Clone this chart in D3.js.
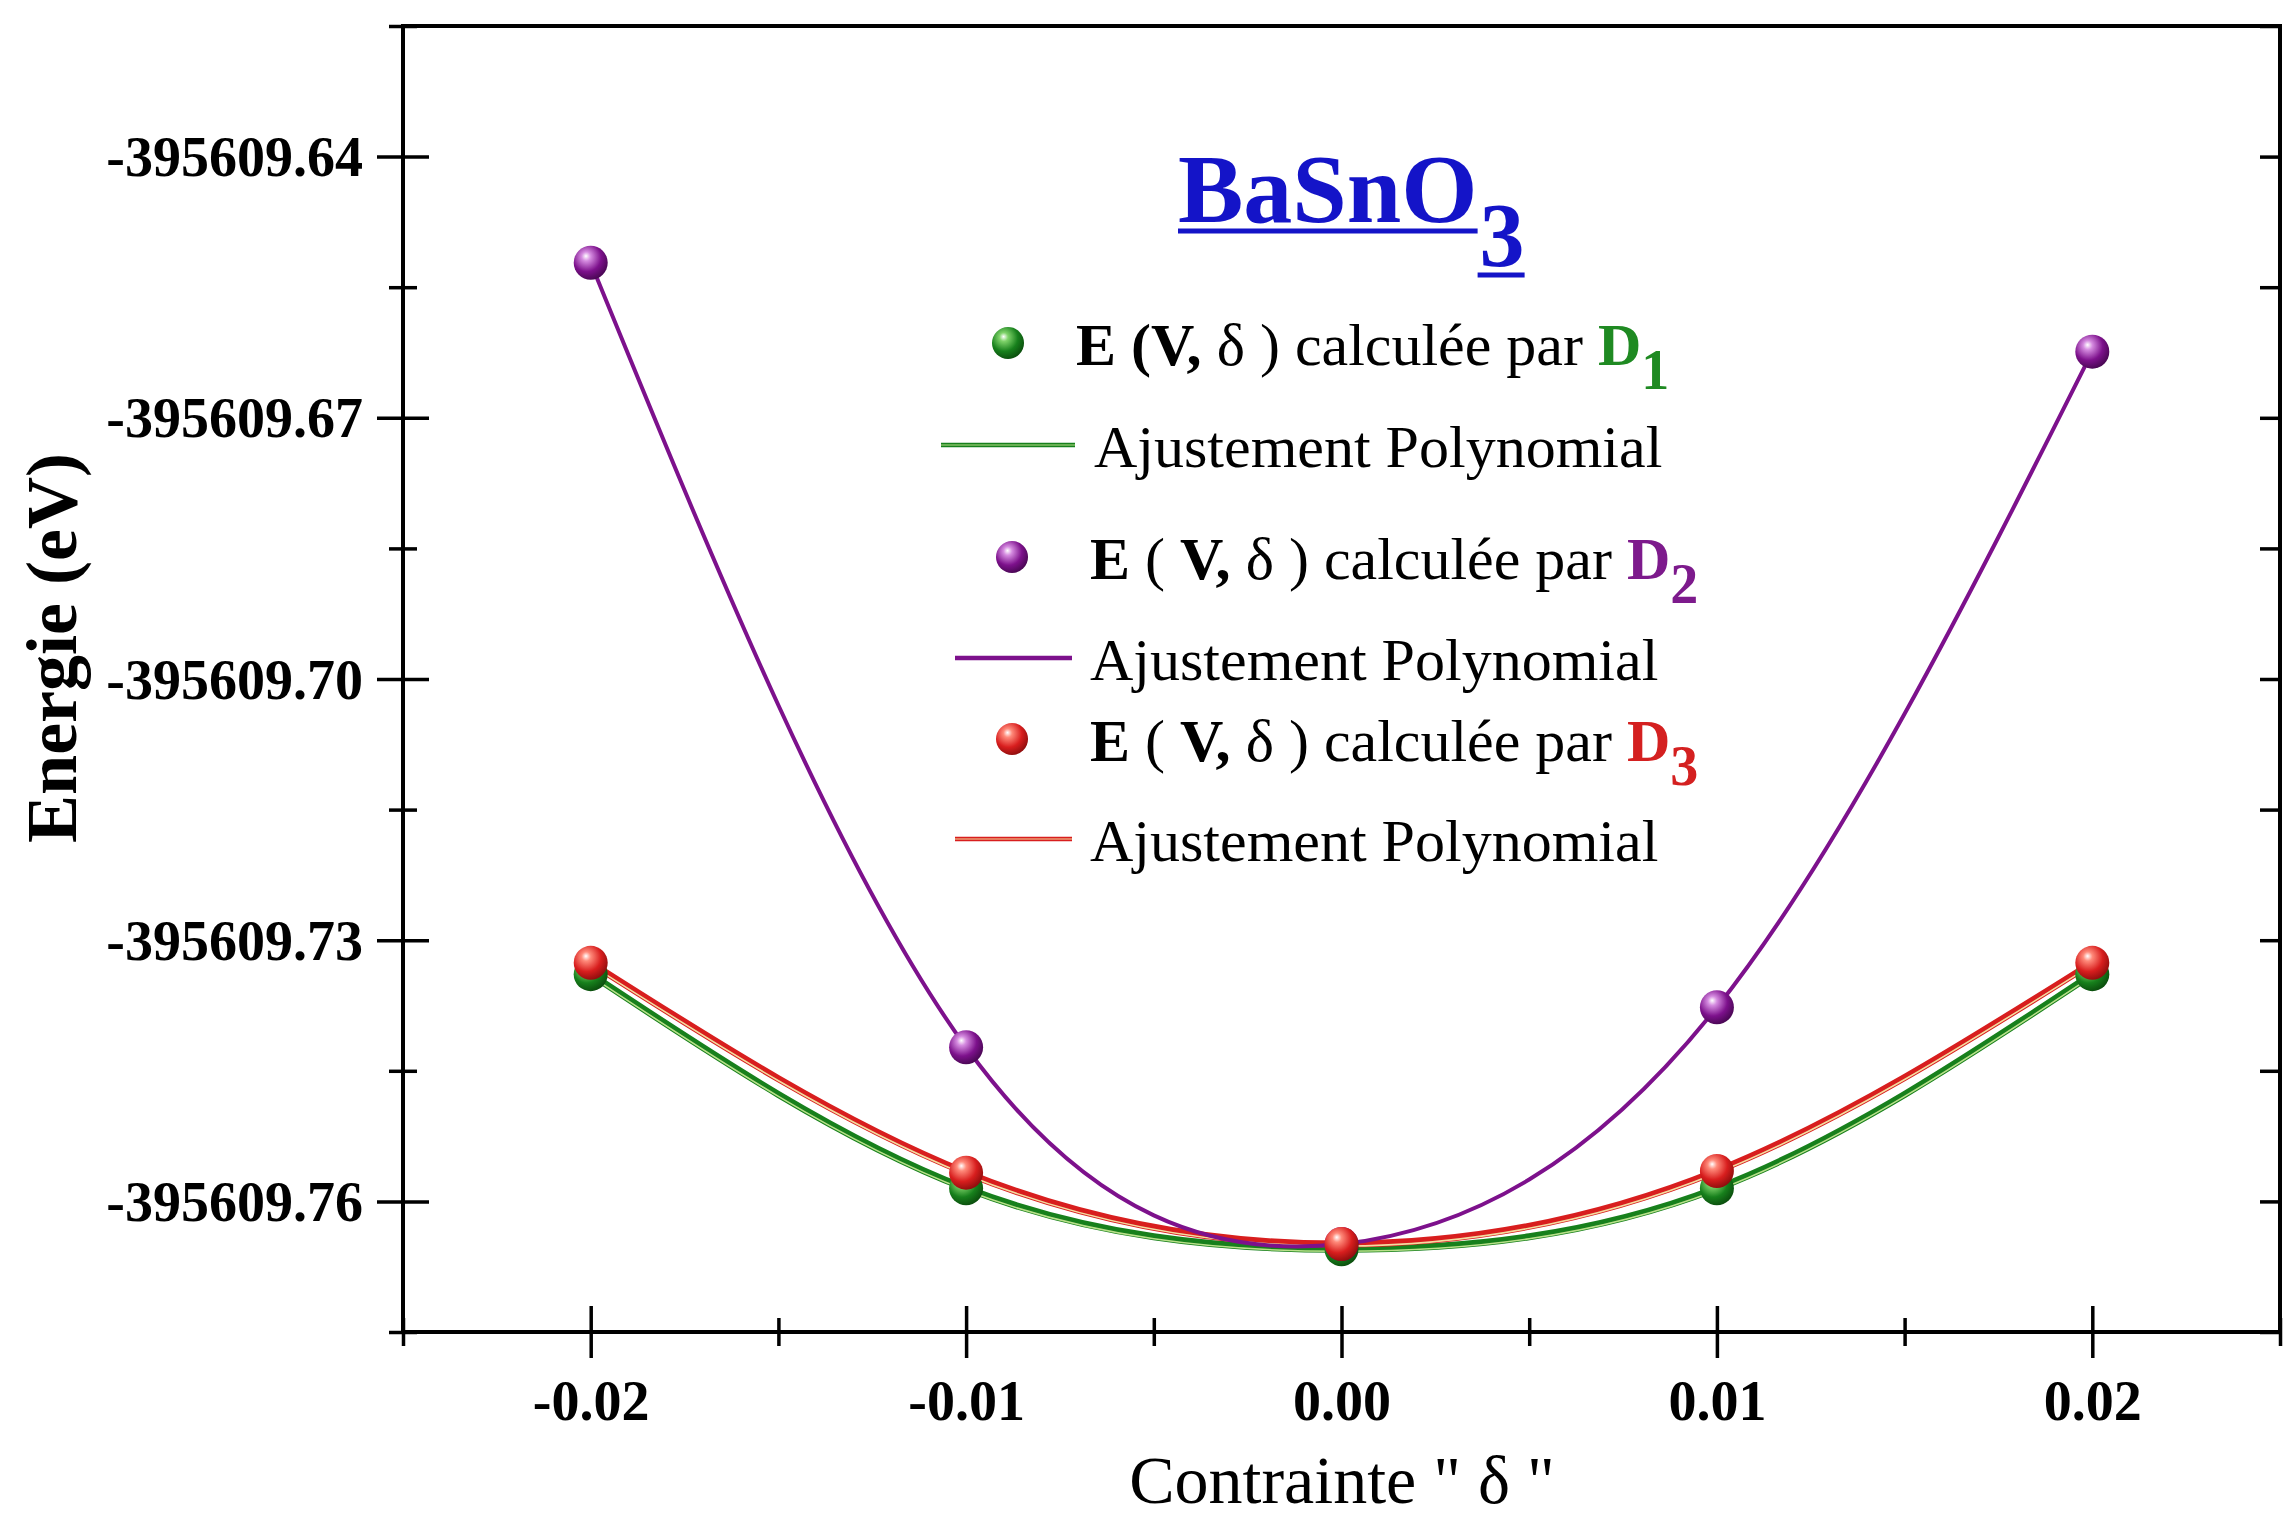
<!DOCTYPE html>
<html>
<head>
<meta charset="utf-8">
<script src="https://cdn.jsdelivr.net/npm/d3@7"></script>
<style>
  body { margin: 0; background: #fff; }
  svg { display: block; font-family: "Liberation Serif", "Times New Roman", serif; }
</style>
</head>
<body>
<div id="chart"></div>
<script>
// strain values (x) and total energies (eV)
const strain = [-0.02, -0.01, 0.00, 0.01, 0.02];
const energyD1 = [-395609.7339, -395609.7585, -395609.7655, -395609.7585, -395609.7339];
const energyD2 = [-395609.6522, -395609.7423, -395609.7649, -395609.7377, -395609.6624];
const energyD3 = [-395609.7326, -395609.7567, -395609.7649, -395609.7565, -395609.7326];

const xTicks = [-0.02, -0.01, 0.00, 0.01, 0.02];
const xMinor = [-0.025, -0.015, -0.005, 0.005, 0.015, 0.025];
const yTicks = [-395609.76, -395609.73, -395609.70, -395609.67, -395609.64];
const yMinor = [-395609.775, -395609.745, -395609.715, -395609.685, -395609.655, -395609.625];

const series = [
    {key: "d1", values: energyD1, color: "#17801c", light: "#7fd36a", dark: "#0a4a0c", width: 7, core: "#b9e08a"},
    {key: "d3", values: energyD3, color: "#d81e1e", light: "#ff8a7a", dark: "#8a0c0c", width: 7, core: "#f3dca0"},
    {key: "d2", values: energyD2, color: "#7d118c", light: "#d58be0", dark: "#45064f", width: 4, core: null}
];

drawChart();

function drawChart(){
    const W = 2287, H = 1517;
    const margin = {top: 26, right: 7, bottom: 185, left: 403},
        width = W - margin.left - margin.right,
        height = H - margin.top - margin.bottom;

    const svg = d3.select("#chart")
        .append("svg")
        .attr("width", W)
        .attr("height", H);

    // shiny ball gradients for the markers
    const defs = svg.append("defs");
    series.forEach(s => {
        const g = defs.append("radialGradient")
            .attr("id", "ball-" + s.key)
            .attr("cx", "40%").attr("cy", "36%").attr("r", "68%")
            .attr("fx", "36%").attr("fy", "30%");
        g.append("stop").attr("offset", "0%").attr("stop-color", "#ffffff");
        g.append("stop").attr("offset", "20%").attr("stop-color", s.light);
        g.append("stop").attr("offset", "62%").attr("stop-color", s.color);
        g.append("stop").attr("offset", "100%").attr("stop-color", s.dark);
    });

    const plot = svg.append("g")
        .attr("transform", `translate(${margin.left},${margin.top})`);

    const xScale = d3.scaleLinear().domain([-0.025, 0.025]).range([0, width]);
    const yScale = d3.scaleLinear().domain([-395609.775, -395609.625]).range([height, 0]);

    const fmt = d => d.toFixed(2);

    // bottom axis, major + minor ticks crossing the axis
    const xMajorG = plot.append("g")
        .attr("transform", `translate(0,${height})`)
        .call(d3.axisBottom(xScale).tickValues(xTicks).tickSize(26).tickFormat(fmt));
    xMajorG.selectAll(".tick line").attr("y1", -26);
    xMajorG.selectAll(".tick text")
        .attr("y", 88).attr("dy", null)
        .attr("font-size", 56).attr("font-weight", "bold")
        .attr("font-family", "Liberation Serif").attr("fill", "#000");

    const xMinorG = plot.append("g")
        .attr("transform", `translate(0,${height})`)
        .call(d3.axisBottom(xScale).tickValues(xMinor).tickSize(14).tickFormat(""));
    xMinorG.selectAll(".tick line").attr("y1", -14);

    // left axis
    const yMajorG = plot.append("g")
        .call(d3.axisLeft(yScale).tickValues(yTicks).tickSize(26).tickFormat(fmt));
    yMajorG.selectAll(".tick line").attr("x1", 26);
    yMajorG.selectAll(".tick text")
        .attr("x", -40).attr("dy", "0.34em")
        .attr("font-size", 56).attr("font-weight", "bold")
        .attr("font-family", "Liberation Serif").attr("fill", "#000");

    const yMinorG = plot.append("g")
        .call(d3.axisLeft(yScale).tickValues(yMinor).tickSize(14).tickFormat(""));
    yMinorG.selectAll(".tick line").attr("x1", 14);

    // right axis, ticks pointing inwards
    plot.append("g")
        .attr("transform", `translate(${width},0)`)
        .call(d3.axisRight(yScale).tickValues(yTicks.concat(yMinor)).tickSize(-20).tickFormat(""));

    plot.selectAll(".domain").remove();
    plot.selectAll(".tick line").attr("stroke", "#000").attr("stroke-width", 3.5);

    // frame
    plot.append("rect")
        .attr("width", width).attr("height", height)
        .attr("fill", "none").attr("stroke", "#000").attr("stroke-width", 4);

    // fitted curves
    const line = d3.line()
        .x(d => xScale(d[0]))
        .y(d => yScale(d[1]))
        .curve(d3.curveNatural);

    series.forEach(s => {
        const pts = strain.map((v, i) => [v, s.values[i]]);
        plot.append("path")
            .attr("d", line(pts))
            .attr("fill", "none")
            .attr("stroke", s.color)
            .attr("stroke-width", s.width);
        if (s.core) {
            plot.append("path")
                .attr("d", line(pts))
                .attr("fill", "none")
                .attr("stroke", s.core)
                .attr("stroke-width", 1.6)
                .attr("transform", "translate(0,2)");
        }
    });

    // markers (green first, then purple, red on top)
    [series[0], series[2], series[1]].forEach(s => {
        plot.selectAll(".pt-" + s.key)
            .data(strain.map((v, i) => [v, s.values[i]]))
            .join("circle")
            .attr("class", "pt-" + s.key)
            .attr("cx", d => xScale(d[0]))
            .attr("cy", d => yScale(d[1]))
            .attr("r", 17)
            .attr("fill", `url(#ball-${s.key})`);
    });

    // title BaSnO3, underlined
    const tx = 1178, ty = 222;
    const t1 = svg.append("text")
        .attr("x", tx).attr("y", ty)
        .attr("font-size", 98).attr("font-weight", "bold")
        .attr("fill", "#1414c8")
        .text("BaSnO");
    const w1 = t1.node().getComputedTextLength();
    const t2 = svg.append("text")
        .attr("x", tx + w1 + 2).attr("y", ty + 44)
        .attr("font-size", 90).attr("font-weight", "bold")
        .attr("fill", "#1414c8")
        .text("3");
    const w2 = t2.node().getComputedTextLength();
    svg.append("line")
        .attr("x1", tx).attr("x2", tx + w1)
        .attr("y1", ty + 9).attr("y2", ty + 9)
        .attr("stroke", "#1414c8").attr("stroke-width", 5);
    svg.append("line")
        .attr("x1", tx + w1).attr("x2", tx + w1 + w2 + 2)
        .attr("y1", ty + 53).attr("y2", ty + 53)
        .attr("stroke", "#1414c8").attr("stroke-width", 5);

    // legend
    const legend = svg.append("g").attr("font-size", 60).attr("fill", "#000");
    const rows = [
        {type: "ball", s: series[0], mx: 1008, y: 365, tx: 1076, open: "(", idx: "1", textColor: "#1f8a22", bold: true},
        {type: "line", s: series[0], x1: 941, x2: 1075, y: 467, tx: 1094},
        {type: "ball", s: series[2], mx: 1012, y: 579, tx: 1090, open: "( ", idx: "2", textColor: "#7d1a8c"},
        {type: "line", s: series[2], x1: 955, x2: 1072, y: 680, tx: 1090},
        {type: "ball", s: series[1], mx: 1012, y: 761, tx: 1090, open: "( ", idx: "3", textColor: "#d42020"},
        {type: "line", s: series[1], x1: 955, x2: 1072, y: 861, tx: 1090}
    ];

    rows.forEach(r => {
        if (r.type === "ball") {
            legend.append("circle")
                .attr("cx", r.mx).attr("cy", r.y - 22)
                .attr("r", 16)
                .attr("fill", `url(#ball-${r.s.key})`);
            const t = legend.append("text").attr("x", r.tx).attr("y", r.y);
            t.append("tspan").attr("font-weight", "bold").text("E ");
            t.append("tspan").attr("font-weight", r.bold ? "bold" : "normal").text(r.open);
            t.append("tspan").attr("font-weight", "bold").text("V, ");
            t.append("tspan").text("\u03b4 ) calcul\u00e9e par ");
            t.append("tspan").attr("font-weight", "bold").attr("fill", r.textColor).text("D");
            t.append("tspan").attr("font-weight", "bold").attr("fill", r.textColor)
                .attr("font-size", 56).attr("dy", 24).text(r.idx);
        } else {
            legend.append("line")
                .attr("x1", r.x1).attr("x2", r.x2)
                .attr("y1", r.y - 22).attr("y2", r.y - 22)
                .attr("stroke", r.s.color).attr("stroke-width", 4.5);
            if (r.s.core) {
                legend.append("line")
                    .attr("x1", r.x1).attr("x2", r.x2)
                    .attr("y1", r.y - 22).attr("y2", r.y - 22)
                    .attr("stroke", r.s.core).attr("stroke-width", 1.2);
            }
            legend.append("text").attr("x", r.tx).attr("y", r.y).text("Ajustement Polynomial");
        }
    });

    // axis titles
    svg.append("text")
        .attr("transform", "translate(76,648) rotate(-90)")
        .attr("text-anchor", "middle")
        .attr("font-size", 72).attr("font-weight", "bold")
        .text("Energie (eV)");

    svg.append("text")
        .attr("x", 1342).attr("y", 1503)
        .attr("text-anchor", "middle")
        .attr("font-size", 68)
        .text("Contrainte \" \u03b4 \"");
}
</script>
</body>
</html>
